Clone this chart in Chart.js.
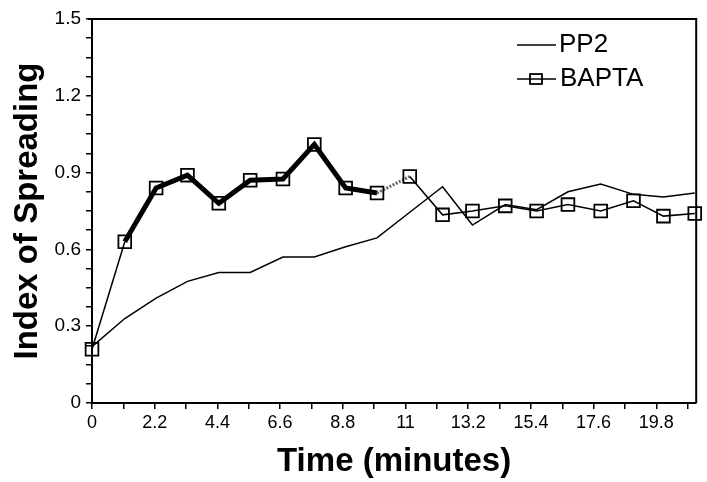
<!DOCTYPE html>
<html>
<head>
<meta charset="utf-8">
<title>Index of Spreading</title>
<script src="https://cdn.jsdelivr.net/npm/chart.js@4.4.1/dist/chart.umd.min.js"></script>
<style>
  html, body { margin: 0; padding: 0; background: #fff; }
  #wrap { width: 707px; height: 482px; }
</style>
</head>
<body>
<div id="wrap"><canvas id="chart" width="707" height="482"></canvas></div>
<script>
// values
const timeMin = [0, 1.15, 2.25, 3.35, 4.45, 5.55, 6.7, 7.8, 8.9, 10.0, 11.15, 12.3, 13.35, 14.5, 15.6, 16.7, 17.85, 19.0, 20.05, 21.15];
const pp2Values = [0.22, 0.33, 0.41, 0.475, 0.51, 0.51, 0.57, 0.57, 0.61, 0.645, 0.745, 0.845, 0.695, 0.775, 0.755, 0.825, 0.855, 0.815, 0.805, 0.82];
const baptaValues = [0.21, 0.63, 0.84, 0.89, 0.78, 0.87, 0.875, 1.01, 0.84, 0.82, 0.885, 0.735, 0.75, 0.77, 0.75, 0.775, 0.75, 0.79, 0.73, 0.74];
const xTickLabels = ['0', '2.2', '4.4', '6.6', '8.8', '11', '13.2', '15.4', '17.6', '19.8'];
const yTickLabels = ['0', '0.3', '0.6', '0.9', '1.2', '1.5'];

const X_MAX = 21.2;
const X_MINOR = 1.1;   // one unlabeled tick between labels
const Y_MINOR = 0.075; // three unlabeled ticks between labels

const toPoints = (vals) => vals.map((v, i) => ({ x: timeMin[i], y: v }));

function xTicks() {
  const t = [];
  xTickLabels.forEach((l) => {
    const v = parseFloat(l);
    t.push({ value: v }, { value: +(v + X_MINOR).toFixed(2) });
  });
  return t;
}

function yTicks() {
  const t = [];
  yTickLabels.forEach((l, i) => {
    const v = parseFloat(l);
    t.push({ value: v });
    if (i < yTickLabels.length - 1) {
      for (let k = 1; k < 4; k++) t.push({ value: +(v + k * Y_MINOR).toFixed(3) });
    }
  });
  return t;
}

// bold middle stretch, dotted link, thin ends
function baptaWidth(ctx) {
  const i = ctx.p0DataIndex;
  if (i >= 1 && i <= 8) return 5;
  if (i === 9) return 3;
  return 1.5;
}

const frameAndLegend = {
  id: 'frameAndLegend',
  afterDatasetsDraw(chart) {
    const { ctx, chartArea: a } = chart;
    ctx.save();
    ctx.strokeStyle = '#000';
    ctx.lineWidth = 2;
    ctx.beginPath();
    ctx.moveTo(a.left - 4, a.top);
    ctx.lineTo(a.right, a.top);
    ctx.lineTo(a.right, a.bottom);
    ctx.stroke();

    ctx.font = '26px "Liberation Sans", Arial, sans-serif';
    ctx.fillStyle = '#000';
    ctx.textBaseline = 'middle';
    ctx.lineWidth = 1.5;

    ctx.beginPath();
    ctx.moveTo(517, 45);
    ctx.lineTo(556, 45);
    ctx.stroke();
    ctx.fillText(chart.data.datasets[0].label, 559, 45);

    ctx.beginPath();
    ctx.moveTo(517, 79);
    ctx.lineTo(556, 79);
    ctx.stroke();
    ctx.lineWidth = 1.8;
    ctx.strokeRect(530, 74, 12, 10);
    ctx.fillText(chart.data.datasets[1].label, 560, 79);
    ctx.restore();
  }
};

const tickFont = { family: '"Liberation Sans", Arial, sans-serif', size: 18 };
const titleFont = { family: '"Liberation Sans", Arial, sans-serif', size: 33, weight: 'bold' };

new Chart(document.getElementById('chart'), {
  type: 'line',
  data: {
    datasets: [
      {
        label: 'PP2',
        data: toPoints(pp2Values),
        borderColor: '#000',
        borderWidth: 1.5,
        pointRadius: 0,
        tension: 0,
        clip: false
      },
      {
        label: 'BAPTA',
        data: toPoints(baptaValues),
        borderColor: '#000',
        borderWidth: 1.5,
        pointStyle: 'rect',
        pointRadius: 9,
        pointBorderWidth: 1.8,
        pointBorderColor: '#000',
        pointBackgroundColor: 'rgba(0,0,0,0)',
        tension: 0,
        clip: false,
        segment: {
          borderWidth: baptaWidth,
          borderDash: (ctx) => (ctx.p0DataIndex === 9 ? [2, 1.5] : undefined),
          borderColor: (ctx) => (ctx.p0DataIndex === 9 ? '#666' : '#000')
        }
      }
    ]
  },
  options: {
    responsive: false,
    animation: false,
    events: [],
    layout: { padding: { top: 19, right: 8, left: 0, bottom: 0 } },
    plugins: { legend: { display: false }, tooltip: { enabled: false } },
    scales: {
      x: {
        type: 'linear',
        min: 0,
        max: X_MAX,
        afterBuildTicks: (s) => { s.ticks = xTicks(); },
        afterFit: (s) => { s.height = 79; },
        border: { display: true, color: '#000', width: 2 },
        grid: { drawOnChartArea: false, drawTicks: true, tickLength: 6, color: '#000', lineWidth: 1.5 },
        ticks: {
          autoSkip: false,
          maxRotation: 0,
          padding: 3,
          color: '#000',
          font: tickFont,
          callback: (v, i) => (i % 2 === 0 ? xTickLabels[i / 2] : '')
        },
        title: { display: true, text: 'Time (minutes)', color: '#000', font: titleFont, padding: { top: 7, bottom: 0 } }
      },
      y: {
        min: 0,
        max: 1.5,
        afterBuildTicks: (s) => { s.ticks = yTicks(); },
        afterFit: (s) => { s.width = 92; },
        border: { display: true, color: '#000', width: 2 },
        grid: { drawOnChartArea: false, drawTicks: true, tickLength: 6, color: '#000', lineWidth: 1.5 },
        ticks: {
          autoSkip: false,
          padding: 5,
          color: '#000',
          font: { family: tickFont.family, size: 19 },
          callback: (v, i) => (i % 4 === 0 ? yTickLabels[i / 4] : '')
        },
        title: { display: true, text: 'Index of Spreading', color: '#000', font: titleFont, padding: { top: 8, bottom: 0 } }
      }
    }
  },
  plugins: [frameAndLegend]
});
</script>
</body>
</html>
